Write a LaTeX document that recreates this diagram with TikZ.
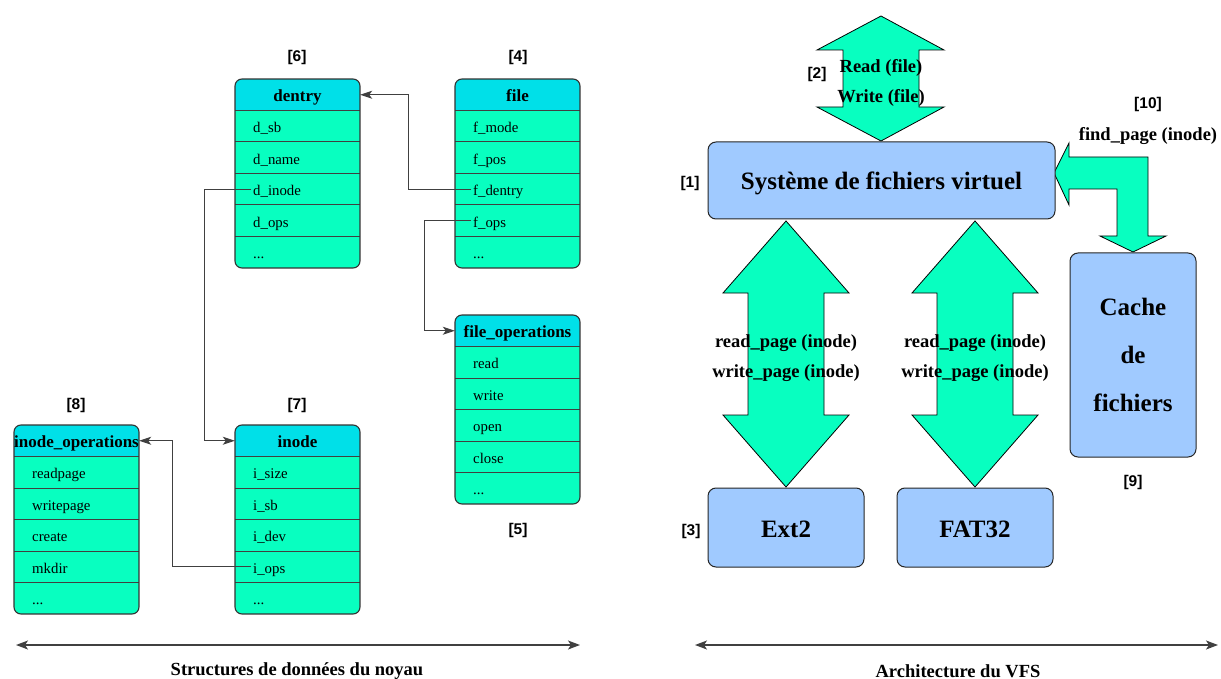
\documentclass[tikz,border=0pt]{standalone}
\usepackage{fontspec}
\setmainfont{Liberation Serif}
\newfontfamily\tagfont{Liberation Sans}
\usetikzlibrary{arrows.meta}

\definecolor{rowgreen}{RGB}{8,255,192}
\definecolor{headcyan}{RGB}{0,224,232}
\definecolor{boxblue}{RGB}{160,202,255}

\tikzset{
  rowline/.style={line width=1pt, draw=black!75},
  boxline/.style={line width=1.1pt, draw=black!80},
  headtext/.style={font=\fontsize{17}{18}\selectfont\bfseries, minimum width=125pt, minimum height=31.5pt,
    inner sep=0pt, text height=17pt, text depth=3pt},
  rowtext/.style={font=\fontsize{14.8}{16}\selectfont, anchor=west, inner sep=2pt, text height=16pt, text depth=3pt},
  tag/.style={font=\tagfont\bfseries\fontsize{15.5}{17}\selectfont, inner sep=0pt},
  link/.style={line width=1pt, draw=black!75, -{Stealth[length=12pt,width=8pt,inset=3pt]}},
  span/.style={line width=1.4pt, draw=black!75, {Stealth[length=12pt,width=9pt,inset=3pt]}-{Stealth[length=12pt,width=9pt,inset=3pt]}},
  caption/.style={font=\fontsize{18.5}{20}\selectfont\bfseries, inner sep=0pt},
  layer/.style={draw=black!85, line width=1pt, fill=boxblue, rounded corners=8pt, inner sep=0pt},
  layertext/.style={font=\fontsize{25}{48}\selectfont\bfseries, align=center},
  flow/.style={fill=rowgreen, draw=black, line width=0.8pt, line join=miter},
  flowtext/.style={font=\fontsize{18.5}{30}\selectfont\bfseries, align=center, inner sep=0pt},
}

% kernel structure: title row plus five field rows
\newcommand{\datatable}[7]{%
  \begin{scope}[shift={#2}]
    \begin{scope}
      \clip[rounded corners=7pt] (0,0) rectangle (125,189);
      \fill[rowgreen] (0,0) rectangle (125,189);
      \fill[headcyan] (0,0) rectangle (125,31.5);
    \end{scope}
    \foreach \k in {1,...,5} \draw[rowline] (0,31.5*\k) -- (125,31.5*\k);
    \draw[boxline, rounded corners=7pt] (0,0) rectangle (125,189);
    \node[headtext] (#1) at (62.5,15.75) {#3};
    \node[rowtext] (#1-1) at (16,47.25) {#4};
    \node[rowtext] (#1-2) at (16,78.75) {#5};
    \node[rowtext] (#1-3) at (16,110.25) {#6};
    \node[rowtext] (#1-4) at (16,141.75) {#7};
    \node[rowtext] (#1-5) at (16,173.25) {...};
  \end{scope}}

\begin{document}
\begin{tikzpicture}[x=1pt,y=-1pt]
\useasboundingbox (0,0) rectangle (1221,679);

% ---------- kernel data structures ----------
\datatable{dentry}{(235,79)}{dentry}{d\_sb}{d\_name}{d\_inode}{d\_ops}
\datatable{file}{(455,79)}{file}{f\_mode}{f\_pos}{f\_dentry}{f\_ops}
\datatable{fileops}{(455,315)}{file\_operations}{read}{write}{open}{close}
\datatable{inodeops}{(14,425)}{inode\_operations}{readpage}{writepage}{create}{mkdir}
\datatable{inode}{(235,425)}{inode}{i\_size}{i\_sb}{i\_dev}{i\_ops}

\node[tag] (t6) at (297,57) {[6]};
\node[tag] (t4) at (518,57) {[4]};
\node[tag] (t8) at (76,405) {[8]};
\node[tag] (t7) at (297,405) {[7]};
\node[tag] (t5) at (518,530) {[5]};

\draw[link] (file-3.west) -- ++(-63,0) |- (dentry.east);
\draw[link] (file-4.west) -- ++(-47,0) |- (fileops.west);
\draw[link] (dentry-3.west) -- ++(-47,0) |- (inode.west);
\draw[link] (inode-4.west) -- ++(-79,0) |- (inodeops.east);

% ---------- VFS architecture ----------
\draw[flow] (881,16) -- (944,50) -- (919,50) -- (919,107) -- (944,107) -- (881,141)
  -- (817,107) -- (843,107) -- (843,50) -- (817,50) -- cycle;
\draw[flow] (786,221) -- (849,293) -- (824,293) -- (824,415) -- (849,415) -- (786,487)
  -- (723,415) -- (748,415) -- (748,293) -- (723,293) -- cycle;
\draw[flow] (975,221) -- (1038,293) -- (1013,293) -- (1013,415) -- (1038,415) -- (975,487)
  -- (912,415) -- (937,415) -- (937,293) -- (912,293) -- cycle;
\draw[flow] (1054,173) -- (1069,143) -- (1069,157) -- (1148,157) -- (1148,236) -- (1166,236)
  -- (1133,252) -- (1100,236) -- (1117,236) -- (1117,189) -- (1069,189) -- (1069,205) -- cycle;

\node[layer, minimum width=347pt, minimum height=77pt] (vfs) at (881.5,180.5) {};
\node[layertext] (vfstext) at (881.5,183) {Système de fichiers virtuel};
\node[layer, minimum width=156pt, minimum height=79pt] (ext2) at (786,527.5) {};
\node[layertext] (ext2text) at (786,529) {Ext2};
\node[layer, minimum width=156pt, minimum height=79pt] (fat32) at (975,527.5) {};
\node[layertext] (fat32text) at (975,529) {FAT32};
\node[layer, minimum width=126pt, minimum height=204pt] (cache) at (1133,355) {};
\node[layertext] (cachetext) at (1133,355) {Cache\\de\\fichiers};

\node[flowtext] (rw) at (881,83) {Read (file)\\Write (file)};
\node[flowtext] (rwext2) at (786,358.5) {read\_page (inode)\\write\_page (inode)};
\node[flowtext] (rwfat) at (975,358.5) {read\_page (inode)\\write\_page (inode)};
\node[flowtext] (find) at (1148,136) {find\_page (inode)};

\node[tag] (t1) at (690,183) {[1]};
\node[tag] (t2) at (817,74) {[2]};
\node[tag] (t3) at (691,531) {[3]};
\node[tag] (t9) at (1133,482) {[9]};
\node[tag] (t10) at (1148,104) {[10]};

% ---------- section spans ----------
\coordinate (kl) at (16,645);
\coordinate (kr) at (580,645);
\coordinate (vl) at (695,645);
\coordinate (vr) at (1218,645);
\draw[span] (kl) -- (kr);
\draw[span] (vl) -- (vr);
\node[caption] (kcap) at (297,671) {Structures de données du noyau};
\node[caption] (vcap) at (958,671) {Architecture du VFS};
\end{tikzpicture}
\end{document}
